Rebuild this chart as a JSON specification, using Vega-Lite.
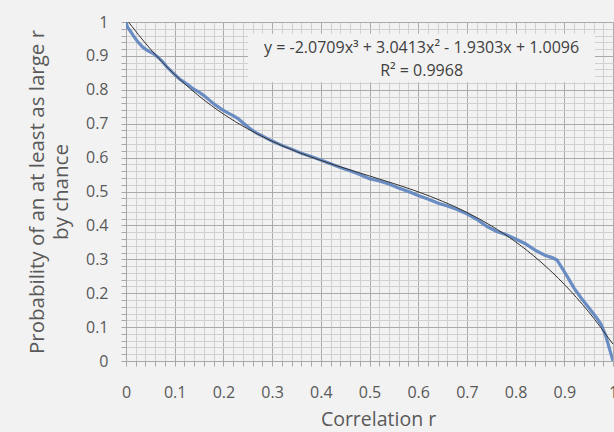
{
  "$schema": "https://vega.github.io/schema/vega-lite/v6.json",
  "autosize": {"type": "none"},
  "padding": {"left": 126, "top": 22, "right": 1, "bottom": 71},
  "width": 487,
  "height": 339,
  "background": "#f2f2f2",
  "config": {
    "view": {"stroke": null, "fill": "#f2f2f2"},
    "font": "Open Sans",
    "axis": {
      "grid": true,
      "labelFlush": false,
      "labelOverlap": false,
      "labelFont": "Open Sans", "labelFontSize": 16, "labelColor": "#595959",
      "tickSize": 5, "tickColor": "#a8a8a8",
      "domainColor": "#a8a8a8",
      "titleFont": "Open Sans", "titleFontSize": 19.5, "titleFontWeight": "normal", "titleColor": "#595959"
    },
    "axisY": {"titleFontSize": 20.5}
  },
  "datasets": {
    "curve": [
      {"r": 0, "p": 1.0}, {"r": 0.003, "p": 0.985}, {"r": 0.008, "p": 0.975}, {"r": 0.015, "p": 0.96},
      {"r": 0.025, "p": 0.94}, {"r": 0.035, "p": 0.925}, {"r": 0.045, "p": 0.915}, {"r": 0.055, "p": 0.908},
      {"r": 0.065, "p": 0.897}, {"r": 0.075, "p": 0.883}, {"r": 0.085, "p": 0.866}, {"r": 0.1, "p": 0.845},
      {"r": 0.11, "p": 0.832}, {"r": 0.12, "p": 0.822}, {"r": 0.13, "p": 0.812}, {"r": 0.14, "p": 0.801},
      {"r": 0.15, "p": 0.793}, {"r": 0.16, "p": 0.783}, {"r": 0.17, "p": 0.771}, {"r": 0.18, "p": 0.759},
      {"r": 0.19, "p": 0.749}, {"r": 0.2, "p": 0.739}, {"r": 0.21, "p": 0.731}, {"r": 0.22, "p": 0.724},
      {"r": 0.23, "p": 0.715}, {"r": 0.24, "p": 0.703}, {"r": 0.25, "p": 0.691}, {"r": 0.26, "p": 0.68},
      {"r": 0.27, "p": 0.671}, {"r": 0.28, "p": 0.664}, {"r": 0.29, "p": 0.656}, {"r": 0.3, "p": 0.649},
      {"r": 0.32, "p": 0.636}, {"r": 0.34, "p": 0.625}, {"r": 0.36, "p": 0.613}, {"r": 0.38, "p": 0.603},
      {"r": 0.4, "p": 0.593}, {"r": 0.42, "p": 0.582}, {"r": 0.44, "p": 0.571}, {"r": 0.46, "p": 0.561},
      {"r": 0.48, "p": 0.55}, {"r": 0.5, "p": 0.538}, {"r": 0.52, "p": 0.531}, {"r": 0.54, "p": 0.522},
      {"r": 0.56, "p": 0.51}, {"r": 0.58, "p": 0.5}, {"r": 0.6, "p": 0.488}, {"r": 0.62, "p": 0.478},
      {"r": 0.64, "p": 0.466}, {"r": 0.66, "p": 0.457}, {"r": 0.68, "p": 0.447}, {"r": 0.7, "p": 0.434},
      {"r": 0.72, "p": 0.418}, {"r": 0.74, "p": 0.398}, {"r": 0.76, "p": 0.383}, {"r": 0.78, "p": 0.373},
      {"r": 0.8, "p": 0.36}, {"r": 0.82, "p": 0.346}, {"r": 0.84, "p": 0.327}, {"r": 0.86, "p": 0.312},
      {"r": 0.875, "p": 0.305}, {"r": 0.885, "p": 0.298}, {"r": 0.895, "p": 0.275}, {"r": 0.905, "p": 0.252},
      {"r": 0.92, "p": 0.215}, {"r": 0.935, "p": 0.185}, {"r": 0.95, "p": 0.158}, {"r": 0.965, "p": 0.13},
      {"r": 0.975, "p": 0.11}, {"r": 0.985, "p": 0.075}, {"r": 0.992, "p": 0.04}, {"r": 0.997, "p": 0.015},
      {"r": 1.0, "p": 0.0}
    ],
    "trend": [
      {"r": 0, "p": 1.0096}, {"r": 0.05, "p": 0.9204}, {"r": 0.1, "p": 0.8449}, {"r": 0.15, "p": 0.7815},
      {"r": 0.2, "p": 0.7286}, {"r": 0.25, "p": 0.6847}, {"r": 0.3, "p": 0.6483}, {"r": 0.35, "p": 0.6178},
      {"r": 0.4, "p": 0.5916}, {"r": 0.45, "p": 0.5681}, {"r": 0.5, "p": 0.5459}, {"r": 0.55, "p": 0.5234},
      {"r": 0.6, "p": 0.499}, {"r": 0.65, "p": 0.4711}, {"r": 0.7, "p": 0.4383}, {"r": 0.75, "p": 0.3989},
      {"r": 0.8, "p": 0.3515}, {"r": 0.85, "p": 0.2944}, {"r": 0.9, "p": 0.2261}, {"r": 0.95, "p": 0.145},
      {"r": 1.0, "p": 0.0497}
    ],
    "note": [
      {"label": "y = -2.0709x³ + 3.0413x² - 1.9303x + 1.0096", "line": 1},
      {"label": "R² = 0.9968", "line": 2}
    ]
  },
  "layer": [
    {
      "data": {"name": "curve"},
      "mark": {"type": "line", "color": "#5b82bf", "strokeWidth": 3.2, "opacity": 0.9, "clip": true},
      "encoding": {
        "x": {
          "field": "r", "type": "quantitative",
          "scale": {"domain": [0, 1], "nice": false},
          "axis": {"title": "Correlation r", "values": [0,0.02,0.04,0.06,0.08,0.1,0.12,0.14,0.16,0.18,0.2,0.22,0.24,0.26,0.28,0.3,0.32,0.34,0.36,0.38,0.4,0.42,0.44,0.46,0.48,0.5,0.52,0.54,0.56,0.58,0.6,0.62,0.64,0.66,0.68,0.7,0.72,0.74,0.76,0.78,0.8,0.82,0.84,0.86,0.88,0.9,0.92,0.94,0.96,0.98,1], "gridColor": {"condition": {"test": "abs(round(datum.value*50)) % 5 == 0", "value": "#aaaaaa"}, "value": "#d0d0d0"}, "labelExpr": "abs(round(datum.value*50)) % 5 == 0 ? format(datum.value, '.1~f') : ''", "labelPadding": 18, "titlePadding": 10, "titleX": 252}
        },
        "y": {
          "field": "p", "type": "quantitative",
          "scale": {"domain": [0, 1], "nice": false},
          "axis": {"title": ["Probability of an at least as large r", "by chance"], "values": [0,0.02,0.04,0.06,0.08,0.1,0.12,0.14,0.16,0.18,0.2,0.22,0.24,0.26,0.28,0.3,0.32,0.34,0.36,0.38,0.4,0.42,0.44,0.46,0.48,0.5,0.52,0.54,0.56,0.58,0.6,0.62,0.64,0.66,0.68,0.7,0.72,0.74,0.76,0.78,0.8,0.82,0.84,0.86,0.88,0.9,0.92,0.94,0.96,0.98,1], "gridColor": {"condition": {"test": "abs(round(datum.value*50)) % 5 == 0", "value": "#aaaaaa"}, "value": "#d0d0d0"}, "labelExpr": "abs(round(datum.value*50)) % 5 == 0 ? format(datum.value, '.1~f') : ''", "labelPadding": 13, "titlePadding": 14, "titleLineHeight": 24}
        }
      }
    },
    {
      "data": {"name": "trend"},
      "mark": {"type": "line", "color": "#333333", "strokeWidth": 1, "interpolate": "monotone", "clip": true},
      "encoding": {
        "x": {"field": "r", "type": "quantitative",
          "axis": {"title": "Correlation r", "values": [0,0.02,0.04,0.06,0.08,0.1,0.12,0.14,0.16,0.18,0.2,0.22,0.24,0.26,0.28,0.3,0.32,0.34,0.36,0.38,0.4,0.42,0.44,0.46,0.48,0.5,0.52,0.54,0.56,0.58,0.6,0.62,0.64,0.66,0.68,0.7,0.72,0.74,0.76,0.78,0.8,0.82,0.84,0.86,0.88,0.9,0.92,0.94,0.96,0.98,1], "gridColor": {"condition": {"test": "abs(round(datum.value*50)) % 5 == 0", "value": "#aaaaaa"}, "value": "#d0d0d0"}, "labelExpr": "abs(round(datum.value*50)) % 5 == 0 ? format(datum.value, '.1~f') : ''", "labelPadding": 18, "titlePadding": 10, "titleX": 252}},
        "y": {"field": "p", "type": "quantitative",
          "axis": {"title": ["Probability of an at least as large r", "by chance"], "values": [0,0.02,0.04,0.06,0.08,0.1,0.12,0.14,0.16,0.18,0.2,0.22,0.24,0.26,0.28,0.3,0.32,0.34,0.36,0.38,0.4,0.42,0.44,0.46,0.48,0.5,0.52,0.54,0.56,0.58,0.6,0.62,0.64,0.66,0.68,0.7,0.72,0.74,0.76,0.78,0.8,0.82,0.84,0.86,0.88,0.9,0.92,0.94,0.96,0.98,1], "gridColor": {"condition": {"test": "abs(round(datum.value*50)) % 5 == 0", "value": "#aaaaaa"}, "value": "#d0d0d0"}, "labelExpr": "abs(round(datum.value*50)) % 5 == 0 ? format(datum.value, '.1~f') : ''", "labelPadding": 13, "titlePadding": 14, "titleLineHeight": 24}}
      }
    },
    {
      "data": {"values": [{"box": 1}]},
      "mark": {"type": "rect", "fill": "#f2f2f2"},
      "encoding": {
        "x": {"datum": 0.2505, "type": "quantitative",
          "axis": {"title": "Correlation r", "values": [0,0.02,0.04,0.06,0.08,0.1,0.12,0.14,0.16,0.18,0.2,0.22,0.24,0.26,0.28,0.3,0.32,0.34,0.36,0.38,0.4,0.42,0.44,0.46,0.48,0.5,0.52,0.54,0.56,0.58,0.6,0.62,0.64,0.66,0.68,0.7,0.72,0.74,0.76,0.78,0.8,0.82,0.84,0.86,0.88,0.9,0.92,0.94,0.96,0.98,1], "gridColor": {"condition": {"test": "abs(round(datum.value*50)) % 5 == 0", "value": "#aaaaaa"}, "value": "#d0d0d0"}, "labelExpr": "abs(round(datum.value*50)) % 5 == 0 ? format(datum.value, '.1~f') : ''", "labelPadding": 18, "titlePadding": 10, "titleX": 252}},
        "x2": {"datum": 0.963},
        "y": {"datum": 0.965, "type": "quantitative",
          "axis": {"title": ["Probability of an at least as large r", "by chance"], "values": [0,0.02,0.04,0.06,0.08,0.1,0.12,0.14,0.16,0.18,0.2,0.22,0.24,0.26,0.28,0.3,0.32,0.34,0.36,0.38,0.4,0.42,0.44,0.46,0.48,0.5,0.52,0.54,0.56,0.58,0.6,0.62,0.64,0.66,0.68,0.7,0.72,0.74,0.76,0.78,0.8,0.82,0.84,0.86,0.88,0.9,0.92,0.94,0.96,0.98,1], "gridColor": {"condition": {"test": "abs(round(datum.value*50)) % 5 == 0", "value": "#aaaaaa"}, "value": "#d0d0d0"}, "labelExpr": "abs(round(datum.value*50)) % 5 == 0 ? format(datum.value, '.1~f') : ''", "labelPadding": 13, "titlePadding": 14, "titleLineHeight": 24}},
        "y2": {"datum": 0.823}
      }
    },
    {
      "data": {"name": "note"},
      "transform": [{"filter": "datum.line == 1"}],
      "mark": {"type": "text", "font": "Open Sans", "fontSize": 16, "color": "#404040", "align": "center", "baseline": "middle"},
      "encoding": {
        "x": {"datum": 0.607, "type": "quantitative",
          "axis": {"title": "Correlation r", "values": [0,0.02,0.04,0.06,0.08,0.1,0.12,0.14,0.16,0.18,0.2,0.22,0.24,0.26,0.28,0.3,0.32,0.34,0.36,0.38,0.4,0.42,0.44,0.46,0.48,0.5,0.52,0.54,0.56,0.58,0.6,0.62,0.64,0.66,0.68,0.7,0.72,0.74,0.76,0.78,0.8,0.82,0.84,0.86,0.88,0.9,0.92,0.94,0.96,0.98,1], "gridColor": {"condition": {"test": "abs(round(datum.value*50)) % 5 == 0", "value": "#aaaaaa"}, "value": "#d0d0d0"}, "labelExpr": "abs(round(datum.value*50)) % 5 == 0 ? format(datum.value, '.1~f') : ''", "labelPadding": 18, "titlePadding": 10, "titleX": 252}},
        "y": {"datum": 0.923, "type": "quantitative",
          "axis": {"title": ["Probability of an at least as large r", "by chance"], "values": [0,0.02,0.04,0.06,0.08,0.1,0.12,0.14,0.16,0.18,0.2,0.22,0.24,0.26,0.28,0.3,0.32,0.34,0.36,0.38,0.4,0.42,0.44,0.46,0.48,0.5,0.52,0.54,0.56,0.58,0.6,0.62,0.64,0.66,0.68,0.7,0.72,0.74,0.76,0.78,0.8,0.82,0.84,0.86,0.88,0.9,0.92,0.94,0.96,0.98,1], "gridColor": {"condition": {"test": "abs(round(datum.value*50)) % 5 == 0", "value": "#aaaaaa"}, "value": "#d0d0d0"}, "labelExpr": "abs(round(datum.value*50)) % 5 == 0 ? format(datum.value, '.1~f') : ''", "labelPadding": 13, "titlePadding": 14, "titleLineHeight": 24}},
        "text": {"field": "label"}
      }
    },
    {
      "data": {"name": "note"},
      "transform": [{"filter": "datum.line == 2"}],
      "mark": {"type": "text", "font": "Open Sans", "fontSize": 16, "color": "#404040", "align": "center", "baseline": "middle"},
      "encoding": {
        "x": {"datum": 0.607, "type": "quantitative",
          "axis": {"title": "Correlation r", "values": [0,0.02,0.04,0.06,0.08,0.1,0.12,0.14,0.16,0.18,0.2,0.22,0.24,0.26,0.28,0.3,0.32,0.34,0.36,0.38,0.4,0.42,0.44,0.46,0.48,0.5,0.52,0.54,0.56,0.58,0.6,0.62,0.64,0.66,0.68,0.7,0.72,0.74,0.76,0.78,0.8,0.82,0.84,0.86,0.88,0.9,0.92,0.94,0.96,0.98,1], "gridColor": {"condition": {"test": "abs(round(datum.value*50)) % 5 == 0", "value": "#aaaaaa"}, "value": "#d0d0d0"}, "labelExpr": "abs(round(datum.value*50)) % 5 == 0 ? format(datum.value, '.1~f') : ''", "labelPadding": 18, "titlePadding": 10, "titleX": 252}},
        "y": {"datum": 0.855, "type": "quantitative",
          "axis": {"title": ["Probability of an at least as large r", "by chance"], "values": [0,0.02,0.04,0.06,0.08,0.1,0.12,0.14,0.16,0.18,0.2,0.22,0.24,0.26,0.28,0.3,0.32,0.34,0.36,0.38,0.4,0.42,0.44,0.46,0.48,0.5,0.52,0.54,0.56,0.58,0.6,0.62,0.64,0.66,0.68,0.7,0.72,0.74,0.76,0.78,0.8,0.82,0.84,0.86,0.88,0.9,0.92,0.94,0.96,0.98,1], "gridColor": {"condition": {"test": "abs(round(datum.value*50)) % 5 == 0", "value": "#aaaaaa"}, "value": "#d0d0d0"}, "labelExpr": "abs(round(datum.value*50)) % 5 == 0 ? format(datum.value, '.1~f') : ''", "labelPadding": 13, "titlePadding": 14, "titleLineHeight": 24}},
        "text": {"field": "label"}
      }
    }
  ]
}
